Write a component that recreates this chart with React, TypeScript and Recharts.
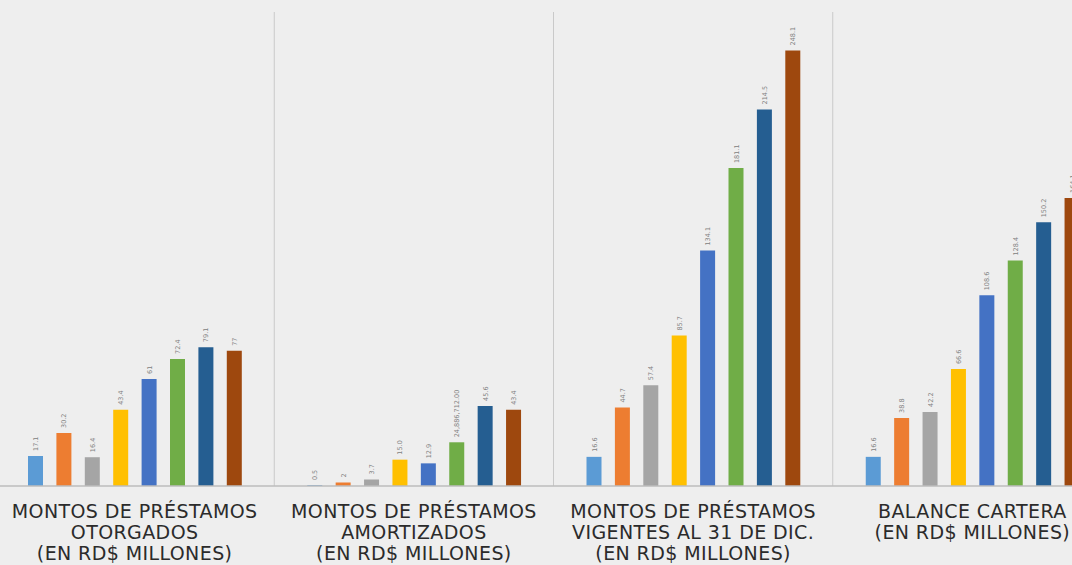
import React from "react";
import { BarChart, Bar, XAxis, YAxis, CartesianGrid, LabelList } from "recharts";

// One entry per panel, read left to right
const panels = ["otorgados", "amortizados", "vigentes", "balance"];

const panelTitles: string[][] = [
  ["MONTOS DE PRÉSTAMOS", "OTORGADOS", "(EN RD$ MILLONES)"],
  ["MONTOS DE PRÉSTAMOS", "AMORTIZADOS", "(EN RD$ MILLONES)"],
  ["MONTOS DE PRÉSTAMOS", "VIGENTES AL 31 DE DIC.", "(EN RD$ MILLONES)"],
  ["BALANCE CARTERA", "(EN RD$ MILLONES)"],
];

// values per panel, eight bars each
const otorgados = [17.1, 30.2, 16.4, 43.4, 61, 72.4, 79.1, 77];
const amortizados = [0.5, 2, 3.7, 15.0, 12.9, 24.9, 45.6, 43.4];
const vigentes = [16.6, 44.7, 57.4, 85.7, 134.1, 181.1, 214.5, 248.1];
const balance = [16.6, 38.8, 42.2, 66.6, 108.6, 128.4, 150.2, 164.1];

// the labels as printed (one of them shows the raw figure)
const amortizadosText = ["0.5", "2", "3.7", "15.0", "12.9", "24,886,712.00", "45.6", "43.4"];

const barColors = ["#5b9bd5", "#ed7d31", "#a5a5a5", "#ffc000", "#4472c4", "#70ad47", "#255e91", "#9e480e"];

const values = [otorgados, amortizados, vigentes, balance];
const texts = values.map((v, p) => (p === 1 ? amortizadosText : v.map(String)));

const data = panels.map((name, p) => {
  const row: Record<string, number | string> = { name };
  barColors.forEach((_, i) => {
    row[`b${i}`] = values[p][i];
  });
  return row;
});

const TitleTick = (props: any) => {
  const { x, y, index } = props;
  const lines = panelTitles[index] ?? [];
  return (
    <g transform={`translate(${x},${y})`}>
      {lines.map((l, i) => (
        <text
          key={i}
          x={0}
          y={24 + i * 21}
          textAnchor="middle"
          fontSize={19}
          letterSpacing={0.4}
          fill="#2b2b2b"
          fontFamily="'DejaVu Sans', sans-serif"
        >
          {l}
        </text>
      ))}
    </g>
  );
};

const makeLabel = (series: number) => (props: any) => {
  const { x, y, width, index } = props;
  const cx = Number(x) + Number(width) / 2 + 2.5;
  const ty = Number(y) - 5;
  return (
    <text
      transform={`translate(${cx},${ty}) rotate(-90)`}
      fontSize={6.5}
      fill="#808080"
      fontFamily="'DejaVu Sans', sans-serif"
    >
      {texts[index][series]}
    </text>
  );
};

// panel borders sit between the category bands
const panelBorders = ({ offset }: any) =>
  panels.slice(1).map((_, k) => offset.left + ((k + 1) * offset.width) / panels.length);

export default function App() {
  return (
    <div
      style={{
        position: "absolute",
        left: 0,
        top: 0,
        width: 1072,
        height: 565,
        overflow: "hidden",
        background: "#eeeeee",
      }}
    >
      <div style={{ marginLeft: -5 }}>
        <BarChart
          width={1117}
          height={565}
          data={data}
          barSize={15}
          barGap={13.4}
          margin={{ top: 12, right: 0, bottom: 0, left: 0 }}
        >
          <CartesianGrid
            horizontal={false}
            verticalCoordinatesGenerator={panelBorders}
            stroke="#c9c9c9"
            strokeWidth={1}
          />
          <XAxis
            dataKey="name"
            axisLine={{ stroke: "#bdbdbd", strokeWidth: 1.5 }}
            tickLine={false}
            tick={<TitleTick />}
            interval={0}
            height={79}
          />
          <YAxis hide domain={[0, 270]} />
          {barColors.map((c, i) => (
            <Bar key={i} dataKey={`b${i}`} fill={c} isAnimationActive={false}>
              <LabelList dataKey={`b${i}`} content={makeLabel(i)} />
            </Bar>
          ))}
        </BarChart>
      </div>
    </div>
  );
}
